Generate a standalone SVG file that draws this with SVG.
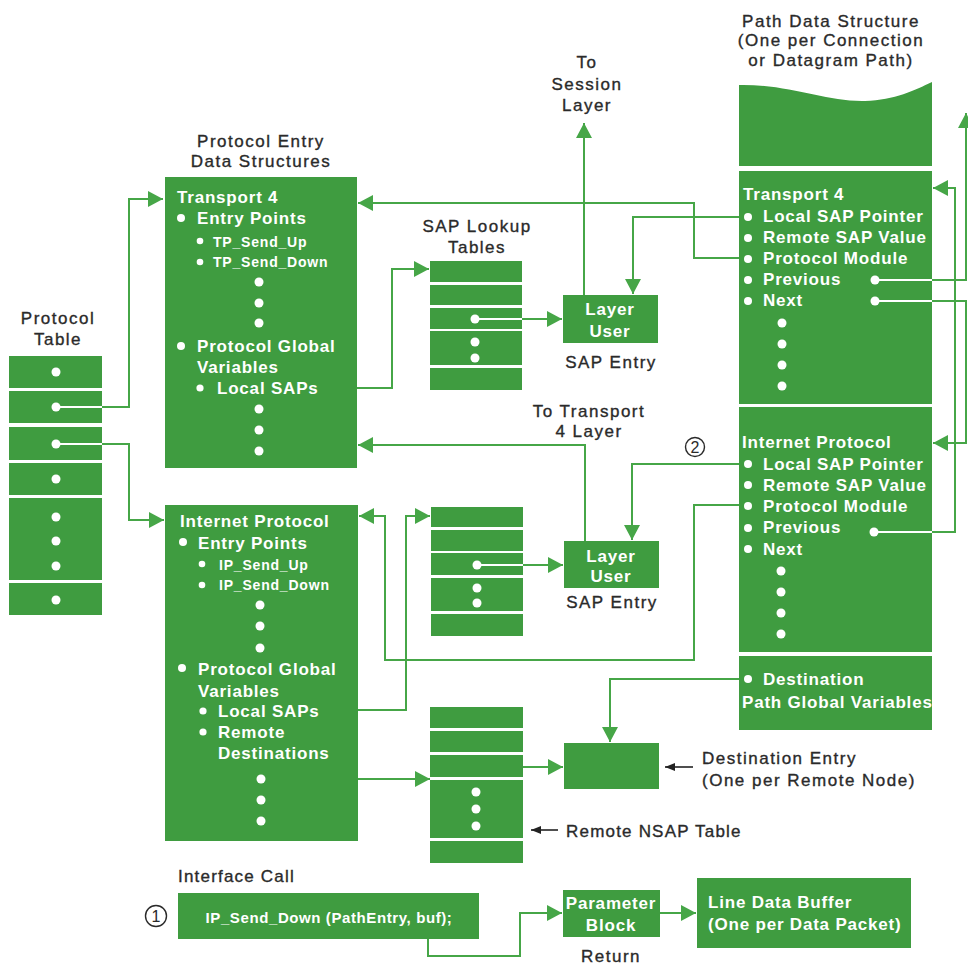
<svg xmlns="http://www.w3.org/2000/svg" width="968" height="965" viewBox="0 0 968 965">
  <style>
    .box { fill: #3f9c40; }
    .wire { fill: none; stroke: #46a647; stroke-width: 2; }
    .wl { fill: none; stroke: #ffffff; stroke-width: 2; }
    .blk { fill: none; stroke: #222222; stroke-width: 1.6; }
    .dot { fill: #ffffff; }
    .lbl { font-family: "Liberation Sans", Arial, sans-serif; font-size: 17px; fill: #2a2a2a; stroke: #2a2a2a; stroke-width: 0.35px; letter-spacing: 1.5px; }
    .mid { text-anchor: middle; }
    .in { font-family: "Liberation Sans", Arial, sans-serif; font-size: 17px; font-weight: bold; fill: #ffffff; letter-spacing: 0.8px; }
    .sm { font-size: 14px; letter-spacing: 0.8px; }
    .num { font-family: "Liberation Sans", Arial, sans-serif; font-size: 16px; fill: #2a2a2a; text-anchor: middle; }
  </style>
  <defs>
    <marker id="ah" markerUnits="userSpaceOnUse" markerWidth="16" markerHeight="18" refX="15" refY="8" orient="auto">
      <path d="M0,0 L15,8 L0,16 z" fill="#46a647"/>
    </marker>
    <marker id="bh" markerUnits="userSpaceOnUse" markerWidth="10" markerHeight="8" refX="10" refY="4" orient="auto">
      <path d="M0,0 L10,4 L0,8 z" fill="#222222"/>
    </marker>
  </defs>

  <rect width="968" height="965" fill="#ffffff"/>

  <!-- Protocol table -->
  <g id="protocol-table">
    <text class="lbl mid" x="58" y="324">Protocol</text>
    <text class="lbl mid" x="58" y="345">Table</text>
    <rect class="box" x="9" y="356" width="93" height="32"/>
    <rect class="box" x="9" y="391" width="93" height="32"/>
    <rect class="box" x="9" y="427" width="93" height="33"/>
    <rect class="box" x="9" y="463" width="93" height="32"/>
    <rect class="box" x="9" y="498" width="93" height="82"/>
    <rect class="box" x="9" y="583" width="93" height="32"/>
    <circle class="dot" cx="56" cy="372" r="4.5"/>
    <circle class="dot" cx="56" cy="407" r="4.5"/>
    <circle class="dot" cx="56" cy="444" r="4.5"/>
    <circle class="dot" cx="56" cy="479" r="4.5"/>
    <circle class="dot" cx="56" cy="517" r="4.5"/>
    <circle class="dot" cx="56" cy="541" r="4.5"/>
    <circle class="dot" cx="56" cy="566" r="4.5"/>
    <circle class="dot" cx="56" cy="600" r="4.5"/>
  </g>

  <!-- Transport 4 protocol entry -->
  <g id="entry-transport4">
    <text class="lbl mid" x="261" y="147">Protocol Entry</text>
    <text class="lbl mid" x="261" y="167">Data Structures</text>
    <rect class="box" x="165" y="177" width="192" height="291"/>
    <text class="in" x="177" y="203">Transport 4</text>
    <circle class="dot" cx="181" cy="218" r="4"/>
    <text class="in" x="197" y="224">Entry Points</text>
    <circle class="dot" cx="200" cy="241" r="3.3"/>
    <text class="in sm" x="213" y="247">TP_Send_Up</text>
    <circle class="dot" cx="200" cy="262" r="3.3"/>
    <text class="in sm" x="213" y="267">TP_Send_Down</text>
    <circle class="dot" cx="259" cy="282" r="4.5"/>
    <circle class="dot" cx="259" cy="303" r="4.5"/>
    <circle class="dot" cx="259" cy="323" r="4.5"/>
    <circle class="dot" cx="181" cy="346" r="4"/>
    <text class="in" x="197" y="352">Protocol Global</text>
    <text class="in" x="197" y="373">Variables</text>
    <circle class="dot" cx="200" cy="388" r="3.6"/>
    <text class="in" x="217" y="394">Local SAPs</text>
    <circle class="dot" cx="259" cy="409" r="4.5"/>
    <circle class="dot" cx="259" cy="430" r="4.5"/>
    <circle class="dot" cx="259" cy="451" r="4.5"/>
  </g>

  <!-- Internet Protocol protocol entry -->
  <g id="entry-ip">
    <rect class="box" x="165" y="505" width="193" height="336"/>
    <text class="in" x="180" y="527">Internet Protocol</text>
    <circle class="dot" cx="183" cy="542" r="4"/>
    <text class="in" x="198" y="549">Entry Points</text>
    <circle class="dot" cx="202" cy="564" r="3.3"/>
    <text class="in sm" x="219" y="570">IP_Send_Up</text>
    <circle class="dot" cx="202" cy="585" r="3.3"/>
    <text class="in sm" x="219" y="590">IP_Send_Down</text>
    <circle class="dot" cx="260" cy="605" r="4.5"/>
    <circle class="dot" cx="260" cy="626" r="4.5"/>
    <circle class="dot" cx="260" cy="648" r="4.5"/>
    <circle class="dot" cx="182" cy="668" r="4"/>
    <text class="in" x="198" y="675">Protocol Global</text>
    <text class="in" x="198" y="697">Variables</text>
    <circle class="dot" cx="203" cy="711" r="3.6"/>
    <text class="in" x="218" y="717">Local SAPs</text>
    <circle class="dot" cx="203" cy="732" r="3.6"/>
    <text class="in" x="218" y="738">Remote</text>
    <text class="in" x="218" y="759">Destinations</text>
    <circle class="dot" cx="261" cy="779" r="4.5"/>
    <circle class="dot" cx="261" cy="800" r="4.5"/>
    <circle class="dot" cx="261" cy="821" r="4.5"/>
  </g>

  <!-- SAP lookup table (Transport 4) -->
  <g id="sap-table-tp4">
    <text class="lbl mid" x="477" y="232">SAP Lookup</text>
    <text class="lbl mid" x="477" y="253">Tables</text>
    <rect class="box" x="430" y="261" width="92" height="21"/>
    <rect class="box" x="430" y="285" width="92" height="20"/>
    <rect class="box" x="430" y="308" width="92" height="21"/>
    <rect class="box" x="430" y="331" width="92" height="34"/>
    <rect class="box" x="430" y="368" width="92" height="22"/>
    <circle class="dot" cx="475" cy="319" r="4.5"/>
    <circle class="dot" cx="475" cy="342" r="4.5"/>
    <circle class="dot" cx="475" cy="358" r="4.5"/>
  </g>

  <!-- SAP lookup table (IP) -->
  <g id="sap-table-ip">
    <rect class="box" x="431" y="507" width="92" height="20"/>
    <rect class="box" x="431" y="530" width="92" height="21"/>
    <rect class="box" x="431" y="553" width="92" height="22"/>
    <rect class="box" x="431" y="578" width="92" height="33"/>
    <rect class="box" x="431" y="614" width="92" height="22"/>
    <circle class="dot" cx="477" cy="565" r="4.5"/>
    <circle class="dot" cx="477" cy="588" r="4.5"/>
    <circle class="dot" cx="477" cy="603" r="4.5"/>
  </g>

  <!-- Remote NSAP table -->
  <g id="nsap-table">
    <rect class="box" x="430" y="707" width="93" height="21"/>
    <rect class="box" x="430" y="731" width="93" height="21"/>
    <rect class="box" x="430" y="755" width="93" height="22"/>
    <rect class="box" x="430" y="780" width="93" height="58"/>
    <rect class="box" x="430" y="841" width="93" height="22"/>
    <circle class="dot" cx="476" cy="792" r="4.5"/>
    <circle class="dot" cx="476" cy="809" r="4.5"/>
    <circle class="dot" cx="476" cy="826" r="4.5"/>
    <path class="blk" d="M558,830 H531" marker-end="url(#bh)"/>
    <text class="lbl" x="566" y="837" style="letter-spacing:1.2px">Remote NSAP Table</text>
  </g>

  <!-- SAP entries -->
  <g id="sap-entry-tp4">
    <text class="lbl mid" x="587" y="68">To</text>
    <text class="lbl mid" x="587" y="90">Session</text>
    <text class="lbl mid" x="587" y="111">Layer</text>
    <rect class="box" x="563" y="295" width="95" height="48"/>
    <text class="in mid" x="610" y="315">Layer</text>
    <text class="in mid" x="610" y="337">User</text>
    <text class="lbl mid" x="611" y="368">SAP Entry</text>
  </g>

  <g id="sap-entry-ip">
    <text class="lbl mid" x="589" y="417">To Transport</text>
    <text class="lbl mid" x="589" y="437">4 Layer</text>
    <rect class="box" x="564" y="541" width="95" height="47"/>
    <text class="in mid" x="611" y="562">Layer</text>
    <text class="in mid" x="611" y="582">User</text>
    <text class="lbl mid" x="612" y="608">SAP Entry</text>
  </g>

  <!-- Destination entry -->
  <g id="destination-entry">
    <rect class="box" x="564" y="743" width="95" height="46"/>
    <path class="blk" d="M693,767 H665" marker-end="url(#bh)"/>
    <text class="lbl" x="702" y="764">Destination Entry</text>
    <text class="lbl" x="702" y="786">(One per Remote Node)</text>
  </g>

  <!-- Path data structure -->
  <g id="path-structure">
    <text class="lbl mid" x="831" y="27">Path Data Structure</text>
    <text class="lbl mid" x="831" y="46">(One per Connection</text>
    <text class="lbl mid" x="831" y="66">or Datagram Path)</text>
    <path class="box" d="M739,85 C790,84 825,102 865,101 C895,100 915,90 932,82 V166 H739 Z"/>
    <rect class="box" x="739" y="171" width="193" height="233"/>
    <text class="in" x="743" y="200">Transport 4</text>
    <circle class="dot" cx="748" cy="217" r="4"/>
    <circle class="dot" cx="748" cy="238" r="4"/>
    <circle class="dot" cx="748" cy="259" r="4"/>
    <circle class="dot" cx="748" cy="280" r="4"/>
    <circle class="dot" cx="748" cy="301" r="4"/>
    <text class="in" x="763" y="222">Local SAP Pointer</text>
    <text class="in" x="763" y="243">Remote SAP Value</text>
    <text class="in" x="763" y="264">Protocol Module</text>
    <text class="in" x="763" y="285">Previous</text>
    <text class="in" x="763" y="306">Next</text>
    <circle class="dot" cx="782" cy="323" r="4.5"/>
    <circle class="dot" cx="782" cy="344" r="4.5"/>
    <circle class="dot" cx="782" cy="365" r="4.5"/>
    <circle class="dot" cx="782" cy="386" r="4.5"/>
    <circle class="dot" cx="875" cy="280" r="4.5"/>
    <circle class="dot" cx="875" cy="301" r="4.5"/>

    <rect class="box" x="739" y="407" width="193" height="245"/>
    <text class="in" x="742" y="448">Internet Protocol</text>
    <circle class="dot" cx="748" cy="464" r="4"/>
    <circle class="dot" cx="748" cy="485" r="4"/>
    <circle class="dot" cx="748" cy="506" r="4"/>
    <circle class="dot" cx="748" cy="528" r="4"/>
    <circle class="dot" cx="748" cy="549" r="4"/>
    <text class="in" x="763" y="470">Local SAP Pointer</text>
    <text class="in" x="763" y="491">Remote SAP Value</text>
    <text class="in" x="763" y="512">Protocol Module</text>
    <text class="in" x="763" y="533">Previous</text>
    <text class="in" x="763" y="555">Next</text>
    <circle class="dot" cx="781" cy="571" r="4.5"/>
    <circle class="dot" cx="781" cy="592" r="4.5"/>
    <circle class="dot" cx="781" cy="613" r="4.5"/>
    <circle class="dot" cx="781" cy="634" r="4.5"/>
    <circle class="dot" cx="874" cy="532" r="4.5"/>

    <rect class="box" x="739" y="656" width="193" height="74"/>
    <circle class="dot" cx="748" cy="679" r="4"/>
    <text class="in" x="763" y="685">Destination</text>
    <text class="in" x="742" y="708">Path Global Variables</text>
  </g>

  <!-- Interface call -->
  <g id="interface-call">
    <text class="lbl" x="178" y="882" style="letter-spacing:1.2px">Interface Call</text>
    <circle cx="156" cy="916" r="10.5" fill="none" stroke="#2a2a2a" stroke-width="1.4"/>
    <text class="num" x="156" y="922">1</text>
    <rect class="box" x="178" y="893" width="301" height="46"/>
    <text class="in mid" x="329" y="923" style="font-size:15px;letter-spacing:0.6px">IP_Send_Down (PathEntry, buf);</text>
  </g>

  <g id="parameter-block">
    <rect class="box" x="563" y="890" width="97" height="47"/>
    <text class="in mid" x="611" y="909">Parameter</text>
    <text class="in mid" x="611" y="931">Block</text>
    <text class="lbl mid" x="611" y="962">Return</text>
  </g>

  <g id="line-data-buffer">
    <rect class="box" x="697" y="878" width="214" height="70"/>
    <text class="in" x="708" y="908">Line Data Buffer</text>
    <text class="in" x="708" y="930">(One per Data Packet)</text>
  </g>

  <!-- step marker 2 -->
  <g id="marker-2">
    <circle cx="695" cy="447" r="9.5" fill="none" stroke="#2a2a2a" stroke-width="1.4"/>
    <text class="num" x="695" y="453">2</text>
  </g>

  <!-- connectors -->
  <g id="connectors">
    <path class="wire" d="M102,407 H129 V199 H163" marker-end="url(#ah)"/>
    <path class="wire" d="M102,444 H129 V520 H164" marker-end="url(#ah)"/>
    <path class="wire" d="M357,388 H392 V269 H429" marker-end="url(#ah)"/>
    <path class="wire" d="M522,319 H562" marker-end="url(#ah)"/>
    <path class="wire" d="M584,295 V123" marker-end="url(#ah)"/>
    <path class="wire" d="M739,258 H694 V203 H358" marker-end="url(#ah)"/>
    <path class="wire" d="M739,217 H633 V294" marker-end="url(#ah)"/>
    <path class="wire" d="M932,280 H966 V113" marker-end="url(#ah)"/>
    <path class="wire" d="M932,301 H966 V443 H933" marker-end="url(#ah)"/>
    <path class="wire" d="M932,532 H955 V188 H933" marker-end="url(#ah)"/>
    <path class="wire" d="M585,541 V445 H358" marker-end="url(#ah)"/>
    <path class="wire" d="M739,464 H632 V540" marker-end="url(#ah)"/>
    <path class="wire" d="M739,505 H694 V660 H385 V516 H359" marker-end="url(#ah)"/>
    <path class="wire" d="M358,710 H406 V516 H430" marker-end="url(#ah)"/>
    <path class="wire" d="M523,565 H563" marker-end="url(#ah)"/>
    <path class="wire" d="M358,779 H430" marker-end="url(#ah)"/>
    <path class="wire" d="M523,767 H563" marker-end="url(#ah)"/>
    <path class="wire" d="M739,679 H610 V742" marker-end="url(#ah)"/>
    <path class="wire" d="M428,939 V956 H520 V913 H562" marker-end="url(#ah)"/>
    <path class="wire" d="M660,913 H696" marker-end="url(#ah)"/>
    <!-- pointer stubs inside the green blocks -->
    <path class="wl" d="M56,407 H102 M56,444 H102 M475,319 H522 M477,565 H523 M875,280 H932 M875,301 H932 M874,532 H932"/>
  </g>
</svg>
